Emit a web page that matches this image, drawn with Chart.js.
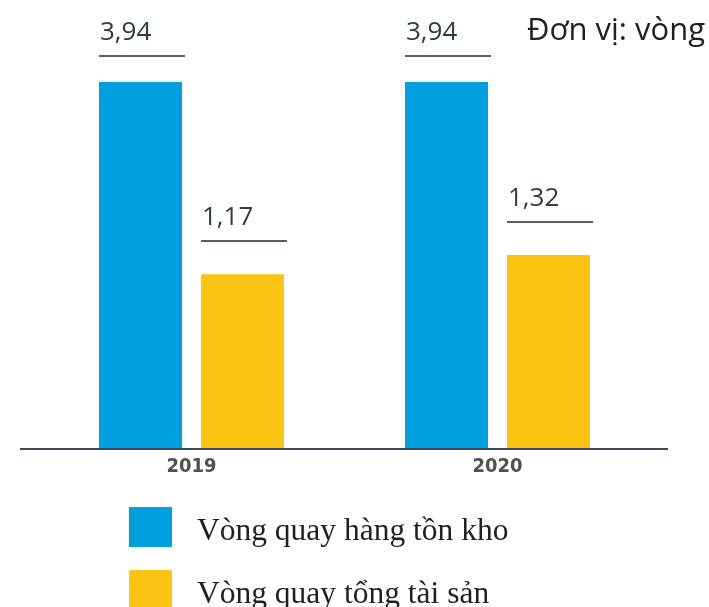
<!DOCTYPE html>
<html><head><meta charset="utf-8">
<script src="https://cdn.jsdelivr.net/npm/chart.js@4.4.0/dist/chart.umd.min.js"></script>
<style>html,body{margin:0;padding:0;background:#fff;overflow:hidden;}#wrap{position:relative;width:709px;height:607px;}</style>
</head><body><div id="wrap"><canvas id="c" width="709" height="607"></canvas></div>
<script>
const categories = ['2019', '2020'];
const seriesNames = ['Vòng quay hàng tồn kho', 'Vòng quay tổng tài sản'];
const inventoryTurnover = [3.94, 3.94];
const assetTurnover = [1.17, 1.32];
const unitLabel = 'Đơn vị: vòng';
const seriesColors = ['#00A0DF', '#FDC513'];

const fmt = v => v.toFixed(2).replace('.', ',');

const annot = {
  id: 'annot',
  afterDatasetsDraw(chart) {
    const ctx = chart.ctx;
    const offs = [26, 33];
    chart.data.datasets.forEach((ds, di) => {
      const meta = chart.getDatasetMeta(di);
      meta.data.forEach((bar, i) => {
        const left = bar.x - bar.width / 2;
        const ly = Math.round(bar.y - offs[di]);
        ctx.save();
        ctx.strokeStyle = '#56606b';
        ctx.lineWidth = 2;
        ctx.beginPath();
        ctx.moveTo(left, ly);
        ctx.lineTo(left + 86, ly);
        ctx.stroke();
        ctx.fillStyle = '#2e3c48';
        ctx.font = "26px 'Open Sans'";
        ctx.textAlign = 'left';
        ctx.textBaseline = 'alphabetic';
        ctx.fillText(fmt(ds.data[i]), left + 1, ly - 16);
        ctx.restore();
      });
    });
    const a = chart.chartArea;
    ctx.save();
    ctx.strokeStyle = '#3d4663';
    ctx.lineWidth = 2;
    ctx.beginPath();
    ctx.moveTo(20, a.bottom + 1);
    ctx.lineTo(668, a.bottom + 1);
    ctx.stroke();
    ctx.restore();
  },
  afterDraw(chart) {
    const ctx = chart.ctx;
    ctx.save();
    ctx.fillStyle = '#231f20';
    ctx.font = "31px 'Open Sans'";
    ctx.textAlign = 'left';
    ctx.textBaseline = 'alphabetic';
    ctx.fillText(unitLabel, 527, 40);
    chart.data.datasets.forEach((ds, i) => {
      ctx.fillStyle = ds.backgroundColor;
      ctx.fillRect(129, 507 + i * 63, 43, 40);
      ctx.fillStyle = '#231f20';
      ctx.font = "31.5px 'Liberation Serif'";
      ctx.fillText(ds.label, 197, 540 + i * 63);
    });
    ctx.restore();
  }
};

new Chart(document.getElementById('c'), {
  type: 'bar',
  data: {
    labels: categories,
    datasets: [
      { label: seriesNames[0], data: inventoryTurnover, backgroundColor: seriesColors[0], barPercentage: 0.8137, categoryPercentage: 0.6667 },
      { label: seriesNames[1], data: assetTurnover, backgroundColor: seriesColors[1], barPercentage: 0.8137, categoryPercentage: 0.6667 }
    ]
  },
  options: {
    responsive: false,
    animation: false,
    devicePixelRatio: 1,
    layout: { padding: { left: 38.5, right: 58.5, top: 20, bottom: 0 } },
    plugins: { legend: { display: false }, tooltip: { enabled: false } },
    scales: {
      x: {
        offset: true,
        grid: { display: false, drawTicks: false },
        border: { display: false },
        ticks: { font: { family: "'DejaVu Sans Condensed', 'DejaVu Sans'", weight: 'bold', size: 20 }, color: '#505050', padding: 7 },
        afterFit(s) { s.height = 159; }
      },
      y: { type: 'logarithmic', display: false, min: 0.39, max: 5.83, bounds: 'data' }
    }
  },
  plugins: [annot]
});
</script>
</body></html>
